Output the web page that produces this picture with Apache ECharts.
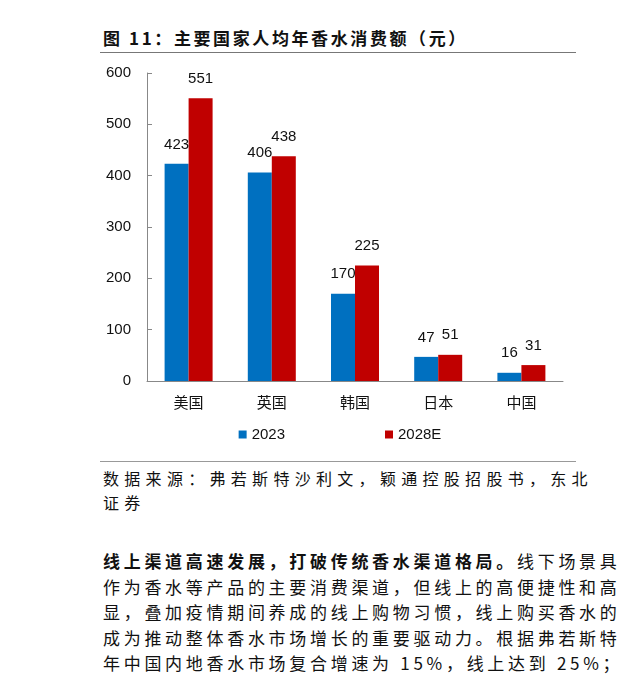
<!DOCTYPE html>
<html><head><meta charset="utf-8">
<script src="https://cdn.jsdelivr.net/npm/echarts@6/dist/echarts.min.js"></script>
<style>
body{margin:0;width:619px;height:694px;overflow:hidden;background:#fff;font-family:"Noto Sans CJK SC",sans-serif;position:relative}
.t{position:absolute;white-space:nowrap;color:#111}
</style></head><body>
<div class="t" style="left:103px;top:25px;font-size:17px;font-weight:bold;letter-spacing:2.6px">图 11：主要国家人均年香水消费额（元）</div>
<div style="position:absolute;left:100px;top:52px;width:476px;height:1px;background:#777"></div>
<div id="chart" style="position:absolute;left:100px;top:55px;width:480px;height:400px"></div>
<div style="position:absolute;left:100px;top:461px;width:476px;height:1px;background:#999"></div>
<div class="t" style="left:103px;top:466px;font-size:16px;line-height:24px;letter-spacing:5.3px">数据来源：弗若斯特沙利文，颖通控股招股书，东北<br>证券</div>
<div style="position:absolute;left:103px;top:548px;width:516px;overflow:hidden;font-size:17px;line-height:25.5px;color:#111;white-space:nowrap;letter-spacing:3.7px">
<b>线上渠道高速发展，打破传统香水渠道格局。</b>线下场景具<br>
作为香水等产品的主要消费渠道，但线上的高便捷性和高<br>
显，叠加疫情期间养成的线上购物习惯，线上购买香水的<br>
成为推动整体香水市场增长的重要驱动力。根据弗若斯特<br>
年中国内地香水市场复合增速为 15%，线上达到 25%；预
</div>
<script>
const categories = ['美国', '英国', '韩国', '日本', '中国'];
const values2023 = [423, 406, 170, 47, 16];
const values2028 = [551, 438, 225, 51, 31];
const yTicks = [0, 100, 200, 300, 400, 500, 600];

const chart = echarts.init(document.getElementById('chart'));
const lbl = { show: true, position: 'top', color: '#111', fontSize: 15, fontFamily: 'Liberation Sans', distance: 12 };
chart.setOption({
  animation: false,
  grid: { left: 47, right: 17, top: 18, bottom: 74 },
  legend: {
    bottom: 8, itemGap: 100, itemWidth: 8, itemHeight: 8, icon: 'rect',
    textStyle: { fontSize: 15, color: '#111', fontFamily: 'Liberation Sans' }
  },
  xAxis: {
    type: 'category', data: categories,
    axisLine: { lineStyle: { color: '#888' } },
    axisTick: { show: false },
    axisLabel: { color: '#111', fontSize: 15, margin: 14, fontFamily: 'Noto Sans CJK SC' }
  },
  yAxis: {
    type: 'value', min: yTicks[0], max: yTicks[yTicks.length - 1], interval: 100,
    axisLine: { show: true, lineStyle: { color: '#888' } },
    axisTick: { show: true, inside: true, length: 5, lineStyle: { color: '#888' } },
    splitLine: { show: false },
    axisLabel: { color: '#111', fontSize: 15, margin: 16, fontFamily: 'Liberation Sans' }
  },
  series: [
    { name: '2023', type: 'bar', data: values2023, barWidth: 24, barGap: '0%', itemStyle: { color: '#0070C0' }, label: lbl },
    { name: '2028E', type: 'bar', data: values2028, barWidth: 24, itemStyle: { color: '#C00000' }, label: lbl }
  ]
});
</script>
</body></html>
